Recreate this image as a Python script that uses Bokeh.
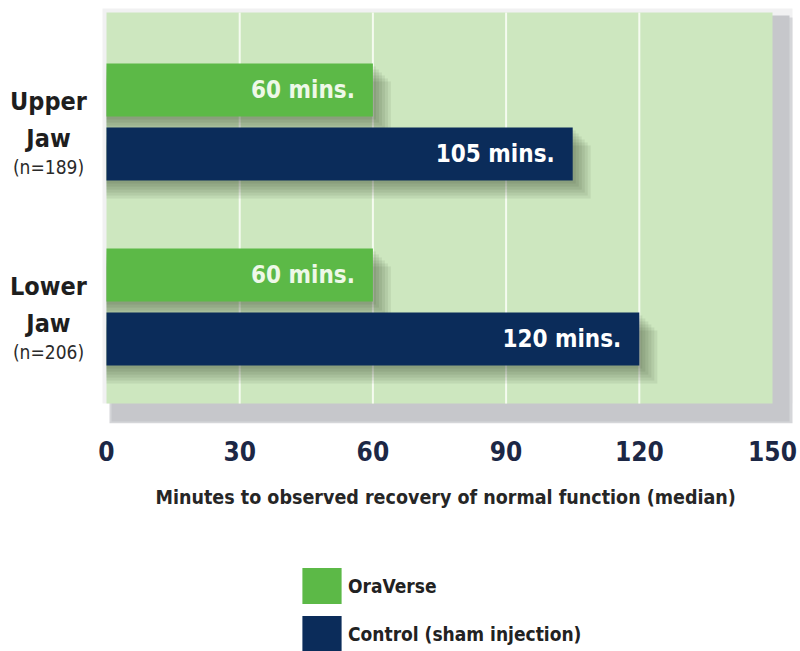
from bokeh.plotting import figure
from bokeh.layouts import column
from bokeh.models import (ColumnDataSource, FactorRange, Range1d, Title,
                          Legend, LegendItem, FixedTicker)
from bokeh.transform import dodge
from bokeh.core.properties import value
from bokeh.embed import file_html
from bokeh.resources import INLINE

# ---- data ----
jaws = ["Upper Jaw", "Lower Jaw"]
jaw_lines = ["Upper\nJaw", "Lower\nJaw"]
sample_sizes = ["(n=189)", "(n=206)"]
oraverse = [60, 60]
control = [105, 120]
series_names = ["OraVerse", "Control (sham injection)"]
x_ticks = [0, 30, 60, 90, 120, 150]
grid_ticks = [30, 60, 90, 120]
axis_title = "Minutes to observed recovery of normal function (median)"

# ---- style ----
FONT = "'DejaVu Sans Condensed', sans-serif"
GREEN = "#5cb947"
NAVY = "#0b2c5a"
PANEL = "#cde7bf"
SHADOW = "#c6c7cb"

W = 800
FRAME_TOP = 5
FRAME_H = 418
BOTTOM = 120
PX_PER_X = 666 / 150                  # pixels per minute
XPX = 1 / PX_PER_X                    # minutes per pixel
X_START = -106 * XPX
X_END = x_ticks[-1] + (W - 772) * XPX
Y_PAD = 0.1297                        # per side
Y_START = -Y_PAD
Y_END = 2 + Y_PAD
PX = (Y_END - Y_START) / FRAME_H      # y units per pixel

src = ColumnDataSource(dict(
    jaw=jaws,
    lines=jaw_lines,
    n=sample_sizes,
    ora=oraverse,
    ctl=control,
    ora_lbl=[f"{v} mins." for v in oraverse],
    ctl_lbl=[f"{v} mins." for v in control],
))

yr = FactorRange(factors=list(reversed(jaws)), range_padding=Y_PAD,
                 range_padding_units="absolute")

p = figure(frame_width=W, frame_height=FRAME_H,
           x_range=Range1d(X_START, X_END), y_range=yr,
           y_axis_location=None, output_backend="svg", toolbar_location=None,
           min_border_left=0, min_border_right=0, min_border_top=FRAME_TOP,
           min_border_bottom=BOTTOM, background_fill_color="white",
           border_fill_color="white", outline_line_color=None)
p.xgrid.visible = False
p.ygrid.visible = False

# chart panel with its soft grey drop shadow
p.quad(left=-4 * XPX, right=x_ticks[-1] + 20 * XPX, bottom=Y_START + 20 * PX,
       top=Y_END - 3 * PX, color="#f1f1f2", line_color=None)
p.quad(left=3 * XPX, right=x_ticks[-1] + 20 * XPX, bottom=Y_START,
       top=Y_END - 12 * PX, color="#d5d6d9", line_color=None)
p.quad(left=5 * XPX, right=x_ticks[-1] + 17 * XPX, bottom=Y_START + 2 * PX,
       top=Y_END - 10 * PX, color=SHADOW, line_color=None)
p.quad(left=x_ticks[0], right=x_ticks[-1], bottom=Y_START + 20 * PX,
       top=Y_END - 7 * PX, color=PANEL, line_color=None)
p.segment(x0=grid_ticks, x1=grid_ticks, y0=Y_START + 20 * PX,
          y1=Y_END - 7 * PX, line_color="#f5fbf0", line_width=2)

OFF = 32 * PX
H = 53 * PX

# blurred bar shadows
for i in range(6):
    d = 3 + 3 * i
    for col, off in (("ora", OFF), ("ctl", -OFF)):
        p.hbar(y=dodge("jaw", off - d * PX, range=yr), left=0,
               right=dodge(col, d * XPX), height=H, color="#203418",
               alpha=0.08, line_color=None, source=src)

g = p.hbar(y=dodge("jaw", OFF, range=yr), left=0, right="ora", height=H,
           color=GREEN, line_color=None, source=src)
n = p.hbar(y=dodge("jaw", -OFF, range=yr), left=0, right="ctl", height=H,
           color=NAVY, line_color=None, source=src)

p.text(x="ora", y=dodge("jaw", OFF, range=yr), text="ora_lbl", source=src,
       text_align="right", text_baseline="middle", x_offset=-18,
       text_font=value(FONT), text_font_style="bold", text_font_size="24px",
       text_color="#eef8e8")
p.text(x="ctl", y=dodge("jaw", -OFF, range=yr), text="ctl_lbl", source=src,
       text_align="right", text_baseline="middle", x_offset=-18,
       text_font=value(FONT), text_font_style="bold", text_font_size="24px",
       text_color="#ffffff")

# category labels, left of the panel
LBL_X = -58 * XPX
p.text(x=LBL_X, y=dodge("jaw", 2 * PX, range=yr), text="lines", source=src,
       text_align="center", text_baseline="middle", text_font=value(FONT),
       text_font_style="bold", text_font_size="25px", text_line_height=1.25,
       text_color="#1e1e1e")
p.text(x=LBL_X, y=dodge("jaw", -45 * PX, range=yr), text="n", source=src,
       text_align="center", text_baseline="middle", text_font=value(FONT),
       text_font_size="19px", text_color="#2a2a2a")

ax = p.xaxis[0]
ax.ticker = FixedTicker(ticks=x_ticks)
ax.axis_line_color = None
ax.major_tick_line_color = None
ax.minor_tick_line_color = None
ax.major_label_standoff = 11
ax.major_label_text_font = FONT
ax.major_label_text_font_style = "bold"
ax.major_label_text_font_size = "26px"
ax.major_label_text_color = "#1c2745"

# axis title under the chart panel
p.add_layout(Title(text=axis_title, align="left", offset=155, standoff=40,
                   text_font=FONT, text_font_style="bold",
                   text_font_size="19.5px", text_color="#262626"), "below")

# ---- legend strip ----
LEG_H = 651 - (FRAME_TOP + FRAME_H + BOTTOM)
p2 = figure(width=W, height=LEG_H, x_range=Range1d(-2, -1),
            y_range=FactorRange(factors=jaws),
            x_axis_location=None, y_axis_location=None, output_backend="svg",
            toolbar_location=None, min_border=0, outline_line_color=None,
            background_fill_color="white", border_fill_color="white")
p2.xgrid.visible = False
p2.ygrid.visible = False
# the same series, outside this strip's visible range: only their swatches show
lg = p2.hbar(y="jaw", left=0, right="ora", height=0.5, color=GREEN,
             line_color=None, source=src)
ln = p2.hbar(y="jaw", left=0, right="ctl", height=0.5, color=NAVY,
             line_color=None, source=src)
legend = Legend(items=[LegendItem(label=series_names[0], renderers=[lg]),
                       LegendItem(label=series_names[1], renderers=[ln])],
                location=(297, -5), orientation="vertical",
                glyph_width=49, glyph_height=45, spacing=3, label_standoff=2,
                padding=0, margin=0, border_line_color=None,
                background_fill_alpha=0, label_text_font=FONT,
                label_text_font_style="bold", label_text_font_size="19px",
                label_text_color="#222222")
p2.add_layout(legend, "center")

open("out.html", "w").write(file_html(column(p, p2, spacing=0), INLINE))
